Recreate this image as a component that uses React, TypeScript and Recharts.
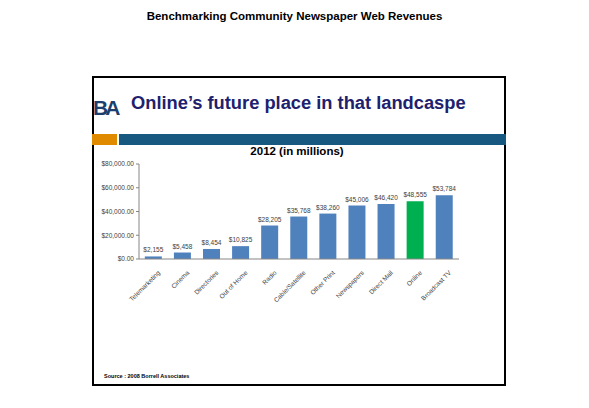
import { BarChart, Bar, XAxis, YAxis, Cell, LabelList } from "recharts"

const categories = [
   "Telemarketing",
   "Cinema",
   "Directories",
   "Out of Home",
   "Radio",
   "Cable/Satellite",
   "Other Print",
   "Newspapers",
   "Direct Mail",
   "Online",
   "Broadcast TV",
]
const revenues = [2155, 5458, 8454, 10825, 28205, 35768, 38260, 45006, 46420, 48555, 53784]
const yTicks = [0, 20000, 40000, 60000, 80000]
const highlight = "Online"

const data = categories.map((name, i) => ({ name, value: revenues[i] }))

const font = "'Liberation Sans', Arial, sans-serif"

const XTick = (props: any) => {
   const { x, y, payload } = props
   return (
      <g transform={`translate(${x + 5},${y + 4})`}>
         <text
            transform="rotate(-45)"
            textAnchor="end"
            fontSize={6.5}
            fill="#404040"
            fontFamily={font}
            dy={3}
         >
            {payload.value}
         </text>
      </g>
   )
}

const App = () => {
   return (
      <div
         style={{
            position: "absolute",
            left: 0,
            top: 0,
            width: 589,
            height: 408,
            background: "#fff",
            fontFamily: font,
         }}
      >
         <div
            style={{
               position: "absolute",
               top: 10,
               width: 589,
               textAlign: "center",
               fontWeight: "bold",
               fontSize: 11.5,
               color: "#000",
            }}
         >
            Benchmarking Community Newspaper Web Revenues
         </div>
         <div
            style={{
               position: "absolute",
               left: 92,
               top: 76,
               width: 410,
               height: 306,
               border: "2px solid #000",
            }}
         />
         <div
            style={{
               position: "absolute",
               left: 93,
               top: 96,
               fontWeight: "bold",
               fontSize: 21,
               color: "#1c3f6e",
               letterSpacing: -3,
            }}
         >
            BA
         </div>
         <div
            style={{
               position: "absolute",
               left: 131,
               top: 92,
               fontWeight: "bold",
               fontSize: 18.3,
               color: "#20216e",
               whiteSpace: "nowrap",
            }}
         >
            Online’s future place in that landcaspe
         </div>
         <div
            style={{
               position: "absolute",
               left: 92,
               top: 134,
               width: 25,
               height: 11,
               background: "#e08a00",
            }}
         />
         <div
            style={{
               position: "absolute",
               left: 119,
               top: 134,
               width: 387,
               height: 11,
               background: "#16587f",
            }}
         />
         <div
            style={{
               position: "absolute",
               left: 0,
               top: 145,
               width: 594,
               textAlign: "center",
               fontWeight: "bold",
               fontSize: 11.5,
               color: "#000",
            }}
         >
            2012 (in millions)
         </div>
         <div
            style={{
               position: "absolute",
               left: 104,
               top: 373,
               fontWeight: "bold",
               fontSize: 5.5,
               color: "#000",
               whiteSpace: "nowrap",
            }}
         >
            Source : 2008 Borrell Associates
         </div>
         <div style={{ position: "absolute", left: 0, top: 0 }}>
            <BarChart
               width={589}
               height={408}
               data={data}
               margin={{ top: 164, right: 130, bottom: 89, left: 89 }}
               barCategoryGap="20%"
            >
               <XAxis
                  dataKey="name"
                  interval={0}
                  height={60}
                  tick={<XTick />}
                  tickLine={false}
                  axisLine={{ stroke: "#868686" }}
               />
               <YAxis
                  width={50}
                  domain={[0, 80000]}
                  ticks={yTicks}
                  tickSize={3}
                  tickLine={{ stroke: "#868686" }}
                  axisLine={{ stroke: "#868686" }}
                  tick={{ fontSize: 6.5, fill: "#404040", fontFamily: font }}
                  tickFormatter={(v: number) =>
                     "$" + v.toLocaleString("en-US", { minimumFractionDigits: 2 })
                  }
               />
               <Bar dataKey="value" isAnimationActive={false}>
                  {data.map((d) => (
                     <Cell key={d.name} fill={d.name === highlight ? "#00b050" : "#4f81bd"} />
                  ))}
                  <LabelList
                     dataKey="value"
                     position="top"
                     offset={4}
                     fontSize={6.5}
                     fill="#404040"
                     fontFamily={font}
                     formatter={(v: any) => "$" + Number(v).toLocaleString("en-US")}
                  />
               </Bar>
            </BarChart>
         </div>
      </div>
   )
}

export default App
